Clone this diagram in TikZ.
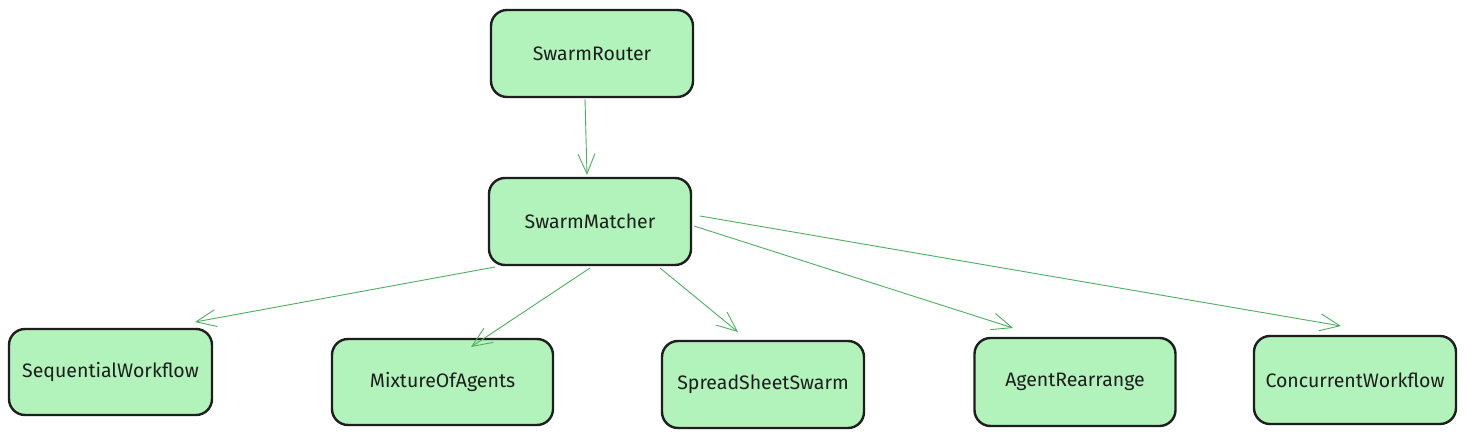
\documentclass[tikz,border=0pt]{standalone}
\usepackage{fontspec}
\setmainfont{Fira Sans}
\usetikzlibrary{arrows.meta}
\definecolor{boxfill}{HTML}{B2F2BB}
\definecolor{boxline}{HTML}{1E1E1E}
\definecolor{arrowcol}{HTML}{4DAF60}
\begin{document}
\begin{tikzpicture}[x=1pt,y=-1pt,
  box/.style={draw=boxline,fill=boxfill,line width=2.4pt,rounded corners=16pt,
    inner sep=0pt,font=\fontsize{19.5}{22}\selectfont,text=boxline},
  link/.style={draw=arrowcol,line width=0.9pt,-{Straight Barb[length=20pt,width=17pt,line width=0.9pt]}}]
\useasboundingbox (0,0) rectangle (1467,438);
\fill[white] (0,0) rectangle (1467,438);
\node[box,minimum width=202pt,minimum height=87pt] (router) at (592,53.5) {SwarmRouter};
\node[box,minimum width=202pt,minimum height=87pt] (matcher) at (590,221.5) {SwarmMatcher};
\node[box,minimum width=203pt,minimum height=86pt] (seq) at (110.5,372) {SequentialWorkflow};
\node[box,minimum width=221pt,minimum height=86pt] (mix) at (442.5,382) {MixtureOfAgents};
\node[box,minimum width=202pt,minimum height=87pt] (spread) at (763,384.5) {SpreadSheetSwarm};
\node[box,minimum width=201pt,minimum height=88pt] (agent) at (1075,382) {AgentRearrange};
\node[box,minimum width=202pt,minimum height=88pt] (conc) at (1355,380) {ConcurrentWorkflow};
\coordinate (r1) at (585,99);
\coordinate (m1) at (587,175);
\coordinate (s1) at (495,267);
\coordinate (s2) at (195,322);
\coordinate (x1) at (590,268);
\coordinate (x2) at (471,347);
\coordinate (p1) at (660,268);
\coordinate (p2) at (738,332);
\coordinate (a1) at (694,226);
\coordinate (a2) at (1013,328);
\coordinate (c1) at (700,216);
\coordinate (c2) at (1341,326);
\draw[link] (r1) -- (m1);
\draw[link] (s1) -- (s2);
\draw[link] (x1) -- (x2);
\draw[link] (p1) -- (p2);
\draw[link] (a1) -- (a2);
\draw[link] (c1) -- (c2);
\end{tikzpicture}
\end{document}
